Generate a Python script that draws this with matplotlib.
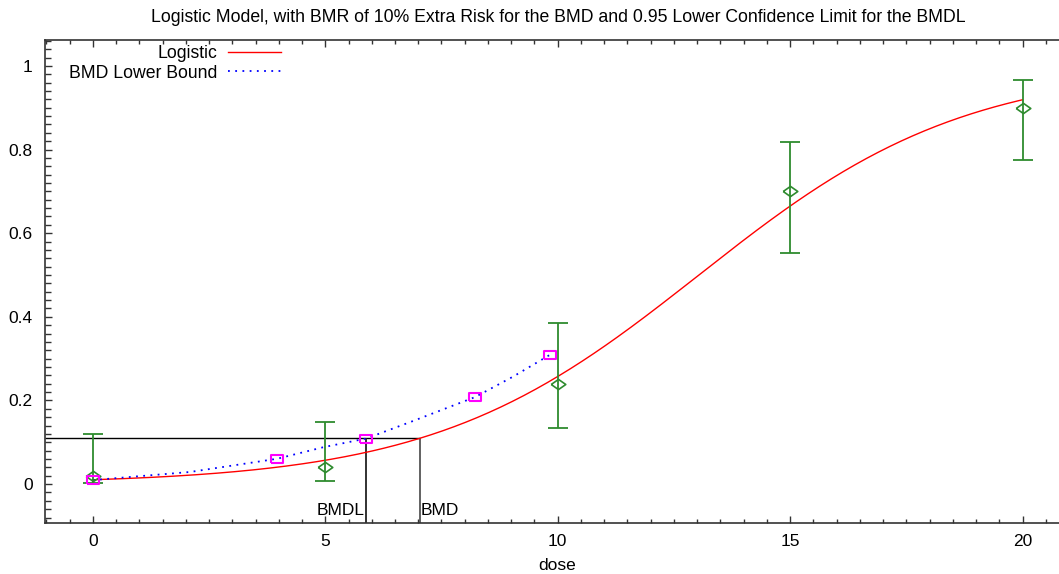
import numpy as np
import matplotlib
matplotlib.use("Agg")
import matplotlib.pyplot as plt
from matplotlib.ticker import MultipleLocator
from matplotlib.lines import Line2D

plt.rcParams['font.family'] = ['Liberation Sans', 'DejaVu Sans']

# observed dose groups: fraction affected with confidence limits
dose = [0, 5, 10, 15, 20]
frac = [0.02, 0.04, 0.24, 0.70, 0.90]
ci_lo = [0.002, 0.007, 0.134, 0.553, 0.776]
ci_hi = [0.120, 0.148, 0.385, 0.819, 0.966]

# fitted logistic model  P(d) = 1 / (1 + exp(-(a + b*d)))
a_int = -4.55
b_slope = 0.349
bmr = 0.10          # extra risk
bmd = 7.04
bmdl = 5.88

# lower bound curve
lb_x = [0, 1.01, 2.09, 3.96, 4.95, 5.88, 6.89, 8.22, 9.04, 9.83]
lb_y = [0.0096, 0.019, 0.029, 0.0605, 0.088, 0.109, 0.151, 0.208, 0.257, 0.309]
lb_marks = [0, 3, 5, 7, 9]

green = '#2e8b2e'
xlo, xhi = -1.03, 21.0
ylo, yhi = -0.093, 1.062
fs = 12.5

fig = plt.figure(figsize=(10.59, 5.74), dpi=100)
ax = fig.add_axes([45 / 1059, 51 / 574, 1024 / 1059, 483 / 574])

d = np.linspace(0, 20, 400)
p = 1 / (1 + np.exp(-(a_int + b_slope * d)))
ax.plot(d, p, color='red', lw=1.0, zorder=3)

ax.plot(lb_x, lb_y, color='blue', lw=1.3, ls=(0, (1, 3)), zorder=3)
sq = [(-1, -0.7), (1, -0.7), (1, 0.7), (-1, 0.7), (-1, -0.7)]
ax.plot([lb_x[i] for i in lb_marks], [lb_y[i] for i in lb_marks], ls='none',
        marker=sq, ms=8.0, mfc='none', mec='#ff00ff', mew=1.5, zorder=5)

dm = np.array(dose, dtype=float)
fr = np.array(frac)
yerr = [fr - np.array(ci_lo), np.array(ci_hi) - fr]
ax.errorbar(dm, fr, yerr=yerr, fmt='none', ecolor=green, elinewidth=1.3,
            capsize=7.5, capthick=1.3, zorder=4)
diamond = [(-1, 0), (0, 0.7), (1, 0), (0, -0.7), (-1, 0)]
ax.plot(dm, fr, ls='none', marker=diamond, ms=10.5, mfc='none', mec=green,
        mew=1.2, zorder=4)

# BMD / BMDL guide lines
p0 = 1 / (1 + np.exp(-a_int))
bmr_y = p0 + bmr * (1 - p0)
ax.hlines(bmr_y, xlo, bmd, color='black', lw=1.0, zorder=2)
ax.vlines([bmdl, bmd], ylo, bmr_y, color=['#222222', '#555555'], lw=1.3, zorder=2)
ax.annotate('BMDL', (bmdl, ylo), xytext=(-1, 3.5), textcoords='offset points',
            ha='right', va='bottom', fontsize=fs)
ax.annotate('BMD', (bmd, ylo), xytext=(0.5, 3.5), textcoords='offset points',
            ha='left', va='bottom', fontsize=fs)

ax.set_xlim(xlo, xhi)
ax.set_ylim(ylo, yhi)
ax.set_xticks([0, 5, 10, 15, 20])
ax.set_yticks([0, 0.2, 0.4, 0.6, 0.8, 1.0])
ax.set_yticklabels(['0', '0.2', '0.4', '0.6', '0.8', '1'])
ax.xaxis.set_minor_locator(MultipleLocator(0.5))
ax.yaxis.set_minor_locator(MultipleLocator(0.02))
ax.tick_params(which='both', direction='in', top=True, right=False,
               color='#333333', width=1.0, labelsize=fs)
ax.tick_params(which='major', length=5, pad=8)
ax.tick_params(which='minor', length=3)
ax.tick_params(axis='y', which='minor', length=4)
ax.tick_params(axis='y', which='major', pad=9)
for s in ['left', 'bottom', 'top']:
    ax.spines[s].set_color('#333333')
    ax.spines[s].set_linewidth(1.2)
ax.spines['right'].set_visible(False)

handles = [Line2D([], [], color='red', lw=1.0),
           Line2D([], [], color='blue', lw=1.3, ls=(0, (1, 3)))]
fig.legend(handles, ['Logistic', 'BMD Lower Bound'], loc='upper right',
           bbox_to_anchor=(281 / 1059, 1 - 45 / 574), frameon=False,
           markerfirst=False, fontsize=12.7, handlelength=3.0,
           handletextpad=0.6, labelspacing=0.15, borderaxespad=0, borderpad=0)

fig.text(558 / 1059, 1 - 17 / 574,
         'Logistic Model, with BMR of 10% Extra Risk for the BMD and 0.95 '
         'Lower Confidence Limit for the BMDL',
         ha='center', va='center', fontsize=12.7)
fig.text(557 / 1059, 1 - 565 / 574, 'dose', ha='center', va='center', fontsize=fs)

fig.savefig('out.png', dpi=100)
